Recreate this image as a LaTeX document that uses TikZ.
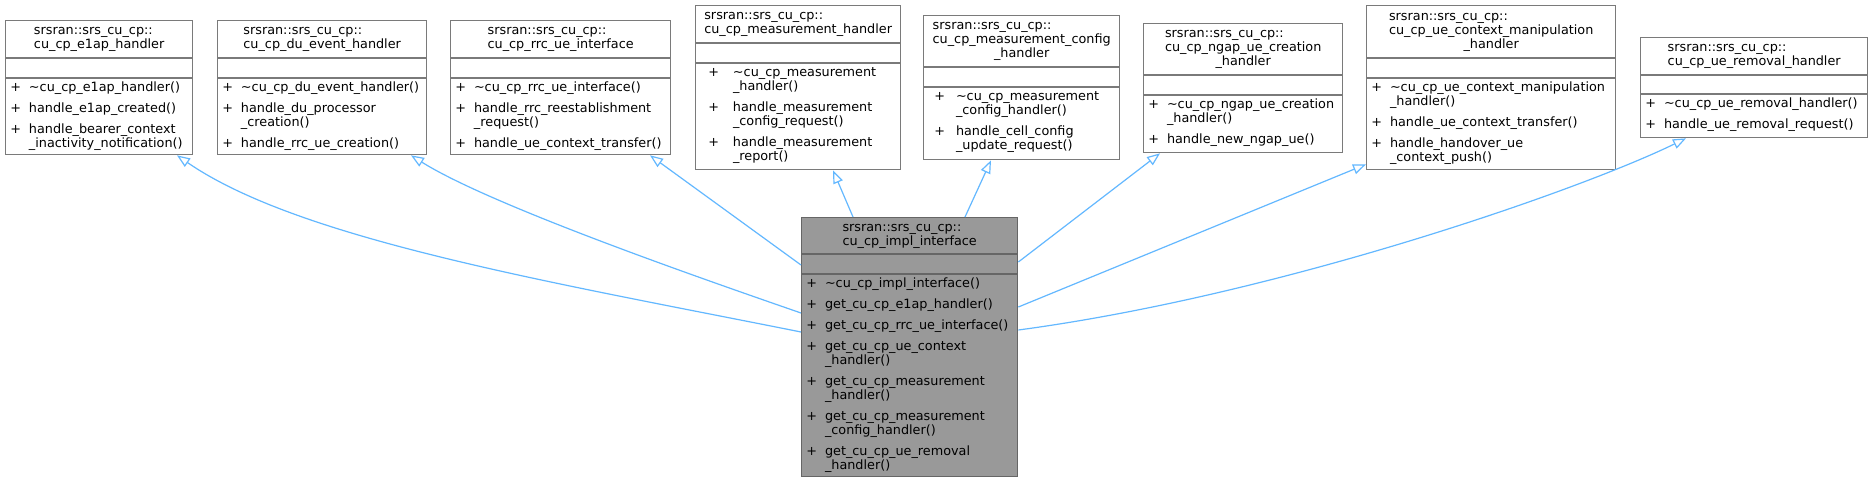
\documentclass[tikz,border=0pt]{standalone}
\usepackage{fontspec}
\setmainfont{DejaVu Sans}
\usetikzlibrary{positioning}
\usetikzlibrary{arrows.meta}

\newlength{\pxu}
\setlength{\pxu}{0.75pt}
\definecolor{edgeblue}{HTML}{63B8FF}
\definecolor{boxline}{HTML}{7A7A7A}
\definecolor{implline}{HTML}{666666}
\definecolor{implgray}{HTML}{999999}

\newcommand{\classname}[1]{\begin{tabular}{@{}l@{}}#1\end{tabular}}
\newcommand{\methlist}[3]{\begin{tabular}{@{\hspace{#1\pxu}}l@{\hspace{#2\pxu}}l@{}}#3\end{tabular}}
% name, x, y, width, height, name rule, attribute rule, class name, methods
\newcommand{\classbox}[9]{%
  \node[classbox, minimum width=#4*\pxu, minimum height=#5*\pxu, anchor=north west] (#1) at (#2,#3) {};
  \draw[classsep] ([shift={(0,#6)}]#1.north west) -- ([shift={(0,#6)}]#1.north east)
    ([shift={(0,#7)}]#1.north west) -- ([shift={(0,#7)}]#1.north east);
  \node[classtext, anchor=center] (#1-n) at ([shift={(0,#6/2)}]#1.north) {#8};
  \node[classtext, anchor=north west] (#1-m) at ([shift={(0,#7+3)}]#1.north west) {#9};
}

\tikzset{
  classbox/.style={draw=boxline, line width=1pt, fill=white, inner sep=0pt},
  classsep/.style={draw=boxline, line width=1pt},
  classtext/.style={inner sep=0pt},
  inherit/.style={draw=edgeblue, line width=0.9pt, -{Triangle[open, length=9.75pt, width=7.5pt]}}
}

\begin{document}
\begin{tikzpicture}[x=0.75pt, y=-0.75pt, font=\fontsize{9.6}{10.5}\selectfont]
  \path[use as bounding box, fill=white] (0,0) rectangle (1872,481);

  \classbox{e1ap}{5}{20}{187}{134}{38}{58}{\classname{srsran::srs\_cu\_cp::\\cu\_cp\_e1ap\_handler}}
    {\methlist{5}{8}{+ & \textasciitilde cu\_cp\_e1ap\_handler()\\[7\pxu]
    + & handle\_e1ap\_created()\\[7\pxu]
    + & handle\_bearer\_context\\ & \_inactivity\_notification()}}

  \classbox{duevent}{217}{20}{209}{134}{38}{58}{\classname{srsran::srs\_cu\_cp::\\cu\_cp\_du\_event\_handler}}
    {\methlist{5}{8}{+ & \textasciitilde cu\_cp\_du\_event\_handler()\\[7\pxu]
    + & handle\_du\_processor\\ & \_creation()\\[7\pxu]
    + & handle\_rrc\_ue\_creation()}}

  \classbox{rrcue}{450}{20}{220}{134}{38}{58}{\classname{srsran::srs\_cu\_cp::\\cu\_cp\_rrc\_ue\_interface}}
    {\methlist{5}{8}{+ & \textasciitilde cu\_cp\_rrc\_ue\_interface()\\[7\pxu]
    + & handle\_rrc\_reestablishment\\ & \_request()\\[7\pxu]
    + & handle\_ue\_context\_transfer()}}

  \classbox{meas}{695}{5}{205}{164}{38}{58}{\classname{srsran::srs\_cu\_cp::\\cu\_cp\_measurement\_handler}}
    {\methlist{13}{14}{+ & \textasciitilde cu\_cp\_measurement\\ & \_handler()\\[7\pxu]
    + & handle\_measurement\\ & \_config\_request()\\[7\pxu]
    + & handle\_measurement\\ & \_report()}}

  \classbox{measconfig}{923}{15}{196}{144}{52}{72}{\classname{srsran::srs\_cu\_cp::\\cu\_cp\_measurement\_config\\\multicolumn{1}{@{}c@{}}{\_handler}}}
    {\methlist{11}{11}{+ & \textasciitilde cu\_cp\_measurement\\ & \_config\_handler()\\[7\pxu]
    + & handle\_cell\_config\\ & \_update\_request()}}

  \classbox{ngapue}{1143}{23}{199}{129}{52}{72}{\classname{srsran::srs\_cu\_cp::\\cu\_cp\_ngap\_ue\_creation\\\multicolumn{1}{@{}c@{}}{\_handler}}}
    {\methlist{5}{8}{+ & \textasciitilde cu\_cp\_ngap\_ue\_creation\\ & \_handler()\\[7\pxu]
    + & handle\_new\_ngap\_ue()}}

  \classbox{ctxmanip}{1366}{5}{249}{164}{53}{73}{\classname{srsran::srs\_cu\_cp::\\cu\_cp\_ue\_context\_manipulation\\\multicolumn{1}{@{}c@{}}{\_handler}}}
    {\methlist{5}{8}{+ & \textasciitilde cu\_cp\_ue\_context\_manipulation\\ & \_handler()\\[7\pxu]
    + & handle\_ue\_context\_transfer()\\[7\pxu]
    + & handle\_handover\_ue\\ & \_context\_push()}}

  \classbox{uerem}{1640}{37}{227}{100}{38}{57}{\classname{srsran::srs\_cu\_cp::\\cu\_cp\_ue\_removal\_handler}}
    {\methlist{5}{8}{+ & \textasciitilde cu\_cp\_ue\_removal\_handler()\\[7\pxu]
    + & handle\_ue\_removal\_request()}}

  % derived class
  \begin{scope}[classbox/.append style={draw=implline, fill=implgray}, classsep/.append style={draw=implline}]
  \classbox{impl}{801}{217}{216}{259}{37}{57}{\classname{srsran::srs\_cu\_cp::\\cu\_cp\_impl\_interface}}
    {\methlist{5}{8}{+ & \textasciitilde cu\_cp\_impl\_interface()\\[7\pxu]
    + & get\_cu\_cp\_e1ap\_handler()\\[7\pxu]
    + & get\_cu\_cp\_rrc\_ue\_interface()\\[7\pxu]
    + & get\_cu\_cp\_ue\_context\\ & \_handler()\\[7\pxu]
    + & get\_cu\_cp\_measurement\\ & \_handler()\\[7\pxu]
    + & get\_cu\_cp\_measurement\\ & \_config\_handler()\\[7\pxu]
    + & get\_cu\_cp\_ue\_removal\\ & \_handler()}}
  \end{scope}

  \draw[inherit] ([shift={(0,115)}]impl.north west) .. controls (551,282) and (300,240) .. ([shift={(172,0)}]e1ap.south west);
  \draw[inherit] ([shift={(0,96)}]impl.north west) .. controls (700,278) and (490,205) .. ([shift={(194,0)}]duevent.south west);
  \draw[inherit] ([shift={(0,48)}]impl.north west) -- ([shift={(200,0)}]rrcue.south west);
  \draw[inherit] ([shift={(52,0)}]impl.north west) -- ([shift={(138,0)}]meas.south west);
  \draw[inherit] ([shift={(164,0)}]impl.north west) -- ([shift={(68,0)}]measconfig.south west);
  \draw[inherit] ([shift={(0,45)}]impl.north east) -- ([shift={(17,0)}]ngapue.south west);
  \draw[inherit] ([shift={(0,90)}]impl.north east) -- ([shift={(0,-6)}]ctxmanip.south west);
  \draw[inherit] ([shift={(0,113)}]impl.north east) .. controls (1280,295) and (1580,190) .. ([shift={(46,0)}]uerem.south west);
\end{tikzpicture}
\end{document}
